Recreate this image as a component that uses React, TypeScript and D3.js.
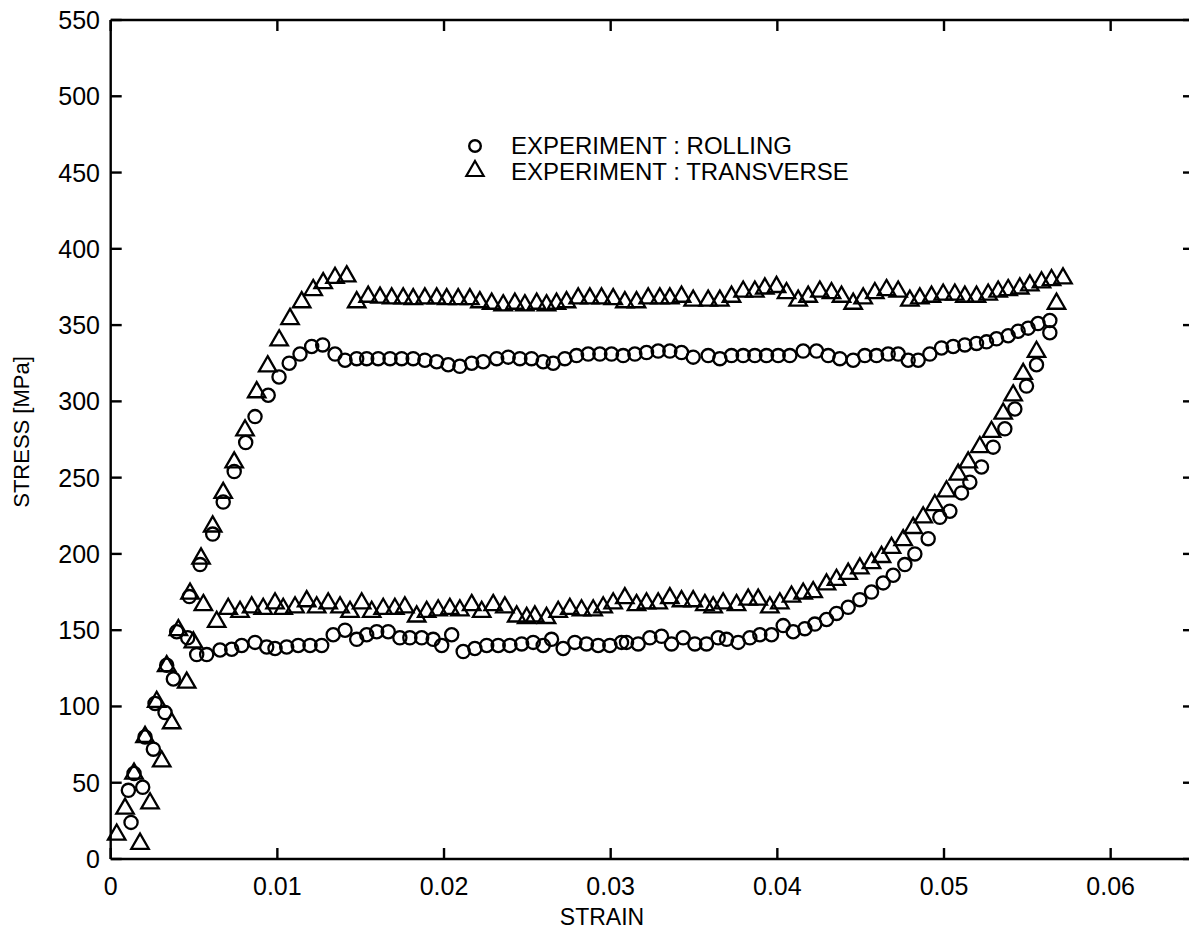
import React from "react";
import * as d3 from "d3";

// Strain / stress readings, ROLLING direction (circles)
const rollingStrain = [
  0.0014, 0.00206, 0.00266, 0.00336, 0.00396, 0.00472, 0.00536, 0.00612, 0.00675, 0.00741, 0.0081, 0.00866,
  0.00945, 0.0101, 0.01071, 0.01136, 0.01206, 0.01272, 0.01346, 0.01406, 0.01476, 0.01536, 0.01605, 0.01676,
  0.01746, 0.01815, 0.01885, 0.01956, 0.02025, 0.02095, 0.02166, 0.02235, 0.02316, 0.02385, 0.02455, 0.02525,
  0.02595, 0.02655, 0.02725, 0.02795, 0.02865, 0.02935, 0.03005, 0.03075, 0.03145, 0.03215, 0.03285, 0.03355,
  0.03425, 0.03495, 0.03585, 0.03655, 0.03725, 0.03795, 0.03865, 0.03935, 0.04005, 0.04075, 0.04155, 0.04235,
  0.04305, 0.04375, 0.04455, 0.04525, 0.04595, 0.04665, 0.04725, 0.04785, 0.04845, 0.04915, 0.04985, 0.05055,
  0.05125, 0.05195, 0.05255, 0.05315, 0.05385, 0.05445, 0.05505, 0.05564, 0.05635,
  0.05635, 0.05555, 0.05495, 0.05425, 0.05365, 0.05295, 0.05225, 0.05155, 0.05105, 0.05035, 0.04975, 0.04905,
  0.04825, 0.04765, 0.04695, 0.04635, 0.04565, 0.04495, 0.04425, 0.04355, 0.04295, 0.04225, 0.04165, 0.04095,
  0.04035, 0.03965, 0.03895, 0.03835, 0.03765, 0.03695, 0.03645,
  0.03575, 0.03505, 0.03435, 0.03365, 0.03305, 0.03235, 0.03165, 0.03095, 0.03065, 0.02995, 0.02925, 0.02855,
  0.02785, 0.02715, 0.02645, 0.02595, 0.02535, 0.02466, 0.02395, 0.02325, 0.02256, 0.02185, 0.02115, 0.02046,
  0.01986, 0.01935, 0.01866, 0.01795, 0.01735, 0.01665, 0.01596, 0.01536, 0.01476, 0.01406, 0.01335, 0.01266,
  0.01196, 0.01125, 0.01056, 0.00986, 0.00936, 0.00866, 0.00786, 0.00726, 0.00656, 0.00576, 0.00516, 0.00462,
  0.00376, 0.00326, 0.00256, 0.00192, 0.00122, 0.00106,
];
const rollingStress = [
  56, 80, 102, 127, 149, 172, 193, 213, 234, 254, 273, 290,
  304, 316, 325, 331, 336, 337, 331, 327, 328, 328, 328, 328,
  328, 328, 327, 326, 324, 323, 325, 326, 328, 329, 328, 328,
  326, 325, 328, 330, 331, 331, 331, 330, 331, 332, 333, 333,
  332, 329, 330, 328, 330, 330, 330, 330, 330, 330, 333, 333,
  330, 328, 327, 330, 330, 331, 331, 327, 327, 331, 335, 336,
  337, 338, 339, 341, 343, 346, 348, 351, 353,
  345, 324, 310, 295, 282, 270, 257, 247, 240, 228, 224, 210,
  200, 193, 186, 181, 175, 170, 165, 161, 157, 154, 151, 149,
  153, 147, 147, 145, 142, 144, 145,
  141, 141, 145, 141, 146, 145, 141, 142, 142, 140, 140, 141,
  142, 138, 144, 140, 142, 141, 140, 140, 140, 138, 136, 147,
  140, 144, 145, 145, 145, 149, 149, 147, 144, 150, 147, 140,
  140, 140, 139, 138, 139, 142, 140, 137.5, 137, 134, 134, 145,
  118, 96, 72, 47, 24, 45,
];

// Strain / stress readings, TRANSVERSE direction (triangles)
const transverseStrain = [
  0.00036, 0.00086, 0.0014, 0.00206, 0.00276, 0.00336, 0.00406, 0.00476, 0.00542, 0.00612, 0.00675, 0.00741,
  0.00806, 0.00876, 0.00942, 0.01011, 0.01076, 0.01146, 0.01215, 0.01275, 0.01346, 0.01416, 0.01476,
  0.01545, 0.01616, 0.01686, 0.01755, 0.01815, 0.01885, 0.01956, 0.02016, 0.02085, 0.02155, 0.02215, 0.02286,
  0.02355, 0.02425, 0.02485, 0.02556, 0.02615, 0.02675, 0.02735, 0.02805, 0.02875, 0.02945, 0.03015, 0.03085,
  0.03155, 0.03225, 0.03295, 0.03355, 0.03425, 0.03495, 0.03585, 0.03655, 0.03725, 0.03795, 0.03865, 0.03925,
  0.03995, 0.04055, 0.04125, 0.04185, 0.04255, 0.04325, 0.04385, 0.04455, 0.04515, 0.04585, 0.04655, 0.04725,
  0.04795, 0.04855, 0.04925, 0.04995, 0.05065, 0.05125, 0.05195, 0.05265, 0.05325, 0.05385, 0.05455, 0.05515,
  0.05585, 0.05645, 0.05714,
  0.05675, 0.05555, 0.05475, 0.05415, 0.05355, 0.05285, 0.05215, 0.05145, 0.05085, 0.05015, 0.04945, 0.04875,
  0.04815, 0.04755, 0.04685, 0.04625, 0.04565, 0.04495, 0.04425, 0.04355, 0.04295, 0.04215, 0.04155, 0.04085,
  0.04015, 0.03955, 0.03885, 0.03825, 0.03755, 0.03675, 0.03615,
  0.03565, 0.03495, 0.03425, 0.03355, 0.03285, 0.03215, 0.03155, 0.03085, 0.03015, 0.02955, 0.02895, 0.02825,
  0.02755, 0.02685, 0.02615, 0.02545, 0.02496, 0.02436, 0.02365, 0.02295, 0.02226, 0.02166, 0.02095, 0.02035,
  0.01965, 0.01896, 0.01836, 0.01765, 0.01705, 0.01635, 0.01566, 0.01506, 0.01436, 0.01376, 0.01305, 0.01236,
  0.01176, 0.01106, 0.01035, 0.00986, 0.00915, 0.00846, 0.00776, 0.00705, 0.00636, 0.00556, 0.00496, 0.00456,
  0.00366, 0.00306, 0.00236, 0.00176,
];
const transverseStress = [
  16, 33, 56, 80, 103, 126.5, 150, 174, 197, 218, 240, 260,
  281, 306, 323, 340, 354, 365, 373, 377.5, 381, 382, 365,
  368.6, 368, 367.5, 367.5, 367, 367.5, 367.5, 367, 367, 367, 365, 364,
  363, 364, 363, 364, 363, 364, 365, 367.5, 367.5, 367.5, 367, 365,
  365, 367.5, 367.5, 367.5, 368.6, 366, 366, 366, 368.6, 372, 372, 374,
  375, 371, 366, 368.6, 372, 371, 368.6, 364, 367.5, 371, 373, 372,
  366, 367.5, 368.6, 370, 370, 368.6, 368.6, 370, 372, 373, 374, 376,
  378, 379.5, 380.6,
  364, 332.5, 318, 304, 292, 280, 270, 260, 252, 241, 232, 224,
  217, 209, 204, 198, 194, 190.5, 187, 183, 180, 175, 174, 172,
  167.6, 165, 170, 170, 166.5, 167.6, 165,
  166.5, 169, 169, 171, 167.6, 167.6, 166.5, 171, 167.6, 165, 163, 163,
  164, 162, 158, 159, 158, 159, 165, 166.5, 162, 166.5, 163, 164,
  163, 162, 159, 165, 164, 164, 162, 167.6, 162, 165, 167.6, 165,
  169, 165, 164, 167.6, 164, 165, 162, 164, 155.5, 166.5, 142, 115.6,
  89, 64, 36.5, 10,
];

const xTicks = [0, 0.01, 0.02, 0.03, 0.04, 0.05, 0.06];
const xTickLabels = ["0", "0.01", "0.02", "0.03", "0.04", "0.05", "0.06"];
const yTicks = [0, 50, 100, 150, 200, 250, 300, 350, 400, 450, 500, 550];

const legendLabels = ["EXPERIMENT : ROLLING", "EXPERIMENT : TRANSVERSE"];

const FONT = "'Liberation Sans', Arial, Helvetica, sans-serif";

export default function App() {
  const W = 1189;
  const H = 932;
  const left = 110.7;
  const right = 1194;
  const top = 20;
  const bottom = 859;

  const x = d3.scaleLinear().domain([0, 0.065]).range([left, right]);
  const y = d3.scaleLinear().domain([0, 550]).range([bottom, top]);

  const tri = d3.symbol(d3.symbolTriangle, 132)() as string;
  const triLegend = d3.symbol(d3.symbolTriangle, 130)() as string;

  const rolling = rollingStrain.map((s, i) => [s, rollingStress[i]]);
  const transverse = transverseStrain.map((s, i) => [s, transverseStress[i]]);

  const tickLen = 11;
  const axisStroke = 2.4;

  return (
    <svg
      width={W}
      height={H}
      style={{ position: "absolute", left: 0, top: 0, background: "#fff" }}
      fontFamily={FONT}
    >
      <rect x={0} y={0} width={W} height={H} fill="#fff" />

      {/* markers */}
      <g fill="none" stroke="#000" strokeWidth={2.3}>
        {rolling.map((d, i) => (
          <circle key={"r" + i} cx={x(d[0])} cy={y(d[1])} r={6.6} />
        ))}
        {transverse.map((d, i) => (
          <path key={"t" + i} d={tri} transform={`translate(${x(d[0])},${y(d[1])})`} />
        ))}
      </g>

      {/* frame */}
      <g stroke="#000" strokeWidth={axisStroke} fill="none">
        <line x1={left} x2={left} y1={top} y2={bottom} />
        <line x1={left} x2={right} y1={bottom} y2={bottom} />
        <line x1={left} x2={right} y1={top} y2={top} />
        <line x1={right} x2={right} y1={top} y2={bottom} />
        {xTicks.map((t) => (
          <g key={"xt" + t}>
            <line x1={x(t)} x2={x(t)} y1={bottom} y2={bottom - tickLen} />
            <line x1={x(t)} x2={x(t)} y1={top} y2={top + tickLen} />
          </g>
        ))}
        {yTicks.map((t) => (
          <g key={"yt" + t}>
            <line x1={left} x2={left + tickLen} y1={y(t)} y2={y(t)} />
            <line x1={right} x2={right - tickLen} y1={y(t)} y2={y(t)} />
          </g>
        ))}
      </g>

      {/* tick labels */}
      <g fontSize={25} fill="#000">
        {xTicks.map((t, i) => (
          <text key={"xl" + t} x={x(t)} y={895} textAnchor="middle">
            {xTickLabels[i]}
          </text>
        ))}
        {yTicks.map((t) => (
          <text key={"yl" + t} x={100} y={y(t) + 9} textAnchor="end">
            {t}
          </text>
        ))}
      </g>

      {/* axis titles */}
      <text x={602} y={925} textAnchor="middle" fontSize={23}>
        STRAIN
      </text>
      <text
        transform={`translate(29,432) rotate(-90)`}
        textAnchor="middle"
        fontSize={22}
      >
        STRESS [MPa]
      </text>

      {/* legend */}
      <g>
        <circle cx={475} cy={146} r={5.8} fill="none" stroke="#000" strokeWidth={2.4} />
        <path d={triLegend} transform="translate(475,171)" fill="none" stroke="#000" strokeWidth={2.2} />
        <text x={511} y={154} fontSize={24}>
          {legendLabels[0]}
        </text>
        <text x={511} y={180} fontSize={24}>
          {legendLabels[1]}
        </text>
      </g>
    </svg>
  );
}
